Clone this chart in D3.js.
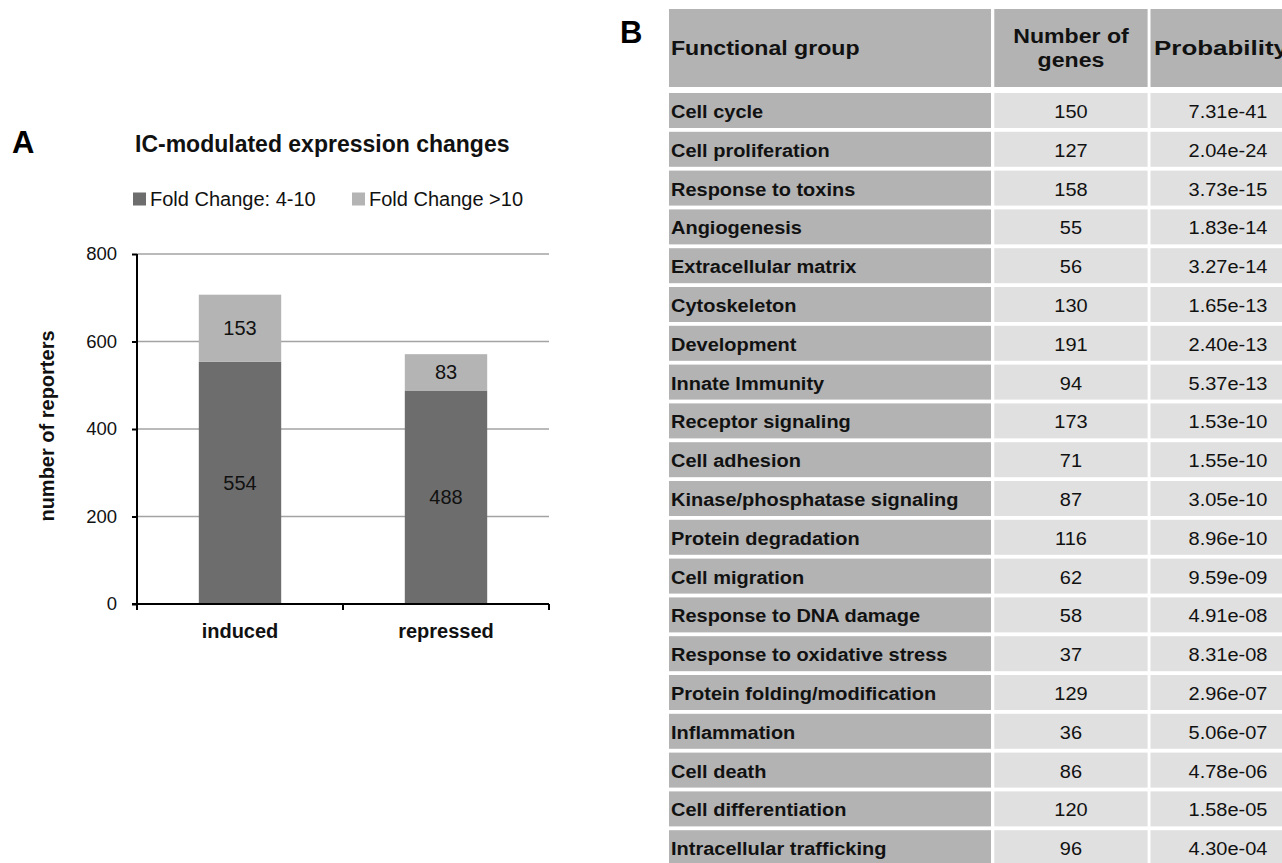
<!DOCTYPE html>
<html>
<head>
<meta charset="utf-8">
<script src="https://cdn.jsdelivr.net/npm/d3@7"></script>
<style>
  body { margin: 0; background: #fff; }
  svg { display: block; font-family: "Liberation Sans", Arial, sans-serif; }
</style>
</head>
<body>
<div id="chart"></div>
<script>
// panel A data
var categories = ["induced", "repressed"]
var fold4to10 = [554, 488]
var foldOver10 = [153, 83]
var yTicks = [0, 200, 400, 600, 800]
var seriesNames = ["Fold Change: 4-10", "Fold Change >10"]

// panel B data
var groups = ["Cell cycle", "Cell proliferation", "Response to toxins", "Angiogenesis",
    "Extracellular matrix", "Cytoskeleton", "Development", "Innate Immunity",
    "Receptor signaling", "Cell adhesion", "Kinase/phosphatase signaling",
    "Protein degradation", "Cell migration", "Response to DNA damage",
    "Response to oxidative stress", "Protein folding/modification", "Inflammation",
    "Cell death", "Cell differentiation", "Intracellular trafficking"]
var geneCounts = [150, 127, 158, 55, 56, 130, 191, 94, 173, 71, 87, 116, 62, 58, 37, 129, 36, 86, 120, 96]
var probabilities = ["7.31e-41", "2.04e-24", "3.73e-15", "1.83e-14", "3.27e-14", "1.65e-13",
    "2.40e-13", "5.37e-13", "1.53e-10", "1.55e-10", "3.05e-10", "8.96e-10", "9.59e-09",
    "4.91e-08", "8.31e-08", "2.96e-07", "5.06e-07", "4.78e-06", "1.58e-05", "4.30e-04"]

var width = 1282
var height = 863
var darkColor = "#6d6d6d"
var lightColor = "#b4b4b4"
var textColor = "#111"

var svg = d3.select("#chart").append("svg")
    .attr("width", width)
    .attr("height", height)

svg.append("rect").attr("width", width).attr("height", height).attr("fill", "#fff")

// ---------- panel A ----------
var plot = {left: 137, right: 549, top: 254, bottom: 604}

var x = d3.scaleBand()
    .domain(categories)
    .range([plot.left, plot.right])
var barWidth = x.bandwidth() * 0.4

var y = d3.scaleLinear()
    .domain([0, 800])
    .range([plot.bottom, plot.top])

svg.append("text")
    .attr("x", 12)
    .attr("y", 153)
    .attr("font-size", 31)
    .attr("font-weight", "bold")
    .text("A")

svg.append("text")
    .attr("x", 135)
    .attr("y", 152)
    .attr("font-size", 23)
    .attr("font-weight", "bold")
    .attr("fill", textColor)
    .text("IC-modulated expression changes")

// legend
var legendX = [133, 352]
var legend = svg.selectAll(".legend")
    .data(seriesNames)
    .enter()
    .append("g")
    .attr("class", "legend")
    .attr("transform", (d, i) => `translate(${legendX[i]},199)`)
legend.append("rect")
    .attr("x", 0).attr("y", -6.5)
    .attr("width", 13).attr("height", 13)
    .attr("fill", (d, i) => i == 0 ? darkColor : lightColor)
legend.append("text")
    .attr("x", 17)
    .attr("y", 7)
    .attr("font-size", 20)
    .attr("fill", textColor)
    .text(d => d)

// gridlines
svg.append("g")
    .selectAll("line")
    .data(yTicks.filter(d => d > 0))
    .enter()
    .append("line")
    .attr("x1", plot.left)
    .attr("x2", plot.right)
    .attr("y1", d => y(d))
    .attr("y2", d => y(d))
    .attr("stroke", "#a3a3a3")
    .attr("stroke-width", 1.5)

// bars
var stackData = categories.map((c, i) => ({cat: c, low: fold4to10[i], high: foldOver10[i]}))
var bars = svg.selectAll(".bar")
    .data(stackData)
    .enter()
    .append("g")
    .attr("class", "bar")

bars.append("rect")
    .attr("x", d => x(d.cat) + (x.bandwidth() - barWidth) / 2)
    .attr("width", barWidth)
    .attr("y", d => y(d.low))
    .attr("height", d => y(0) - y(d.low))
    .attr("fill", darkColor)
bars.append("rect")
    .attr("x", d => x(d.cat) + (x.bandwidth() - barWidth) / 2)
    .attr("width", barWidth)
    .attr("y", d => y(d.low + d.high))
    .attr("height", d => y(d.low) - y(d.low + d.high))
    .attr("fill", lightColor)

bars.append("text")
    .attr("x", d => x(d.cat) + x.bandwidth() / 2)
    .attr("y", d => y(d.low / 2) + 7)
    .attr("text-anchor", "middle")
    .attr("font-size", 20)
    .attr("fill", textColor)
    .text(d => d.low)
bars.append("text")
    .attr("x", d => x(d.cat) + x.bandwidth() / 2)
    .attr("y", d => y(d.low + d.high / 2) + 7)
    .attr("text-anchor", "middle")
    .attr("font-size", 20)
    .attr("fill", textColor)
    .text(d => d.high)

// y axis
var yAxis = svg.append("g")
    .attr("transform", `translate(${plot.left},0)`)
    .call(d3.axisLeft(y).tickValues(yTicks).tickSize(5).tickPadding(15).tickSizeOuter(0))
yAxis.select(".domain").remove()
yAxis.selectAll("line").attr("stroke", "#000").attr("stroke-width", 2)
yAxis.selectAll("text").attr("font-size", 18.5).attr("fill", textColor).attr("font-family", "Liberation Sans, Arial, sans-serif")
svg.append("line")
    .attr("x1", plot.left).attr("x2", plot.left)
    .attr("y1", plot.top).attr("y2", plot.bottom + 6)
    .attr("stroke", "#000").attr("stroke-width", 2)

// x axis
svg.append("line")
    .attr("x1", plot.left - 5).attr("x2", plot.right)
    .attr("y1", plot.bottom).attr("y2", plot.bottom)
    .attr("stroke", "#000").attr("stroke-width", 2)
svg.append("g")
    .selectAll("line")
    .data(categories.map(c => x(c)).concat([plot.right]))
    .enter()
    .append("line")
    .attr("x1", d => d).attr("x2", d => d)
    .attr("y1", plot.bottom).attr("y2", plot.bottom + 6)
    .attr("stroke", "#000").attr("stroke-width", 2)
svg.append("g")
    .selectAll("text")
    .data(categories)
    .enter()
    .append("text")
    .attr("x", d => x(d) + x.bandwidth() / 2)
    .attr("y", 638)
    .attr("text-anchor", "middle")
    .attr("font-size", 20)
    .attr("font-weight", "bold")
    .attr("fill", textColor)
    .text(d => d)

svg.append("text")
    .attr("transform", `translate(54,426) rotate(-90)`)
    .attr("text-anchor", "middle")
    .attr("font-size", 20)
    .attr("font-weight", "bold")
    .attr("fill", textColor)
    .text("number of reporters")

// ---------- panel B ----------
svg.append("text")
    .attr("x", 620)
    .attr("y", 43)
    .attr("font-size", 31)
    .attr("font-weight", "bold")
    .text("B")

var cols = [{x0: 669, x1: 991}, {x0: 994.3, x1: 1147.6}, {x0: 1150.5, x1: 1326}]
var headerTop = 9, headerBottom = 87
var rowPitch = 38.8, rowGap = 3.8, firstRow = 93
var rowY = d3.scaleBand()
    .domain(d3.range(groups.length))
    .range([firstRow, firstRow + groups.length * rowPitch - rowGap])
    .paddingInner(rowGap / rowPitch)
    .paddingOuter(0)

function stretchedText(sel, x, yy, anchor, sx) {
    return sel.append("text")
        .attr("transform", `translate(${x},${yy}) scale(${sx},1)`)
        .attr("text-anchor", anchor)
        .attr("fill", textColor)
}

var header = svg.append("g")
header.selectAll("rect")
    .data(cols)
    .enter()
    .append("rect")
    .attr("x", d => d.x0)
    .attr("width", d => d.x1 - d.x0)
    .attr("y", headerTop)
    .attr("height", headerBottom - headerTop)
    .attr("fill", "#b3b3b3")

var hMid = (headerTop + headerBottom) / 2
var col2Mid = (cols[1].x0 + cols[1].x1) / 2
stretchedText(header, 671, hMid + 7, "start", 1.1)
    .attr("font-size", 21).attr("font-weight", "bold").text("Functional group")
stretchedText(header, col2Mid, hMid - 5, "middle", 1.1)
    .attr("font-size", 21).attr("font-weight", "bold").text("Number of")
stretchedText(header, col2Mid, hMid + 19, "middle", 1.1)
    .attr("font-size", 21).attr("font-weight", "bold").text("genes")
header.append("text")
    .attr("x", 1154)
    .attr("y", hMid + 7)
    .attr("font-size", 21)
    .attr("font-weight", "bold")
    .attr("fill", textColor)
    .attr("textLength", 134)
    .attr("lengthAdjust", "spacingAndGlyphs")
    .text("Probability")

var rows = svg.selectAll(".row")
    .data(groups)
    .enter()
    .append("g")
    .attr("class", "row")

rows.append("rect")
    .attr("x", cols[0].x0).attr("width", cols[0].x1 - cols[0].x0)
    .attr("y", (d, i) => rowY(i)).attr("height", rowY.bandwidth())
    .attr("fill", "#b3b3b3")
rows.append("rect")
    .attr("x", cols[1].x0).attr("width", cols[1].x1 - cols[1].x0)
    .attr("y", (d, i) => rowY(i)).attr("height", rowY.bandwidth())
    .attr("fill", "#e0e0e0")
rows.append("rect")
    .attr("x", cols[2].x0).attr("width", cols[2].x1 - cols[2].x0)
    .attr("y", (d, i) => rowY(i)).attr("height", rowY.bandwidth())
    .attr("fill", "#e0e0e0")

var bodyStretch = 1.08
rows.each(function(d, i) {
    var g = d3.select(this)
    var base = rowY(i) + rowY.bandwidth() / 2 + 7.5
    stretchedText(g, 671, base, "start", bodyStretch)
        .attr("font-size", 18.5).attr("font-weight", "bold").text(d)
    stretchedText(g, col2Mid, base, "middle", bodyStretch)
        .attr("font-size", 18.5).text(geneCounts[i])
    stretchedText(g, 1228, base, "middle", bodyStretch)
        .attr("font-size", 18.5).text(probabilities[i])
})
</script>
</body>
</html>
